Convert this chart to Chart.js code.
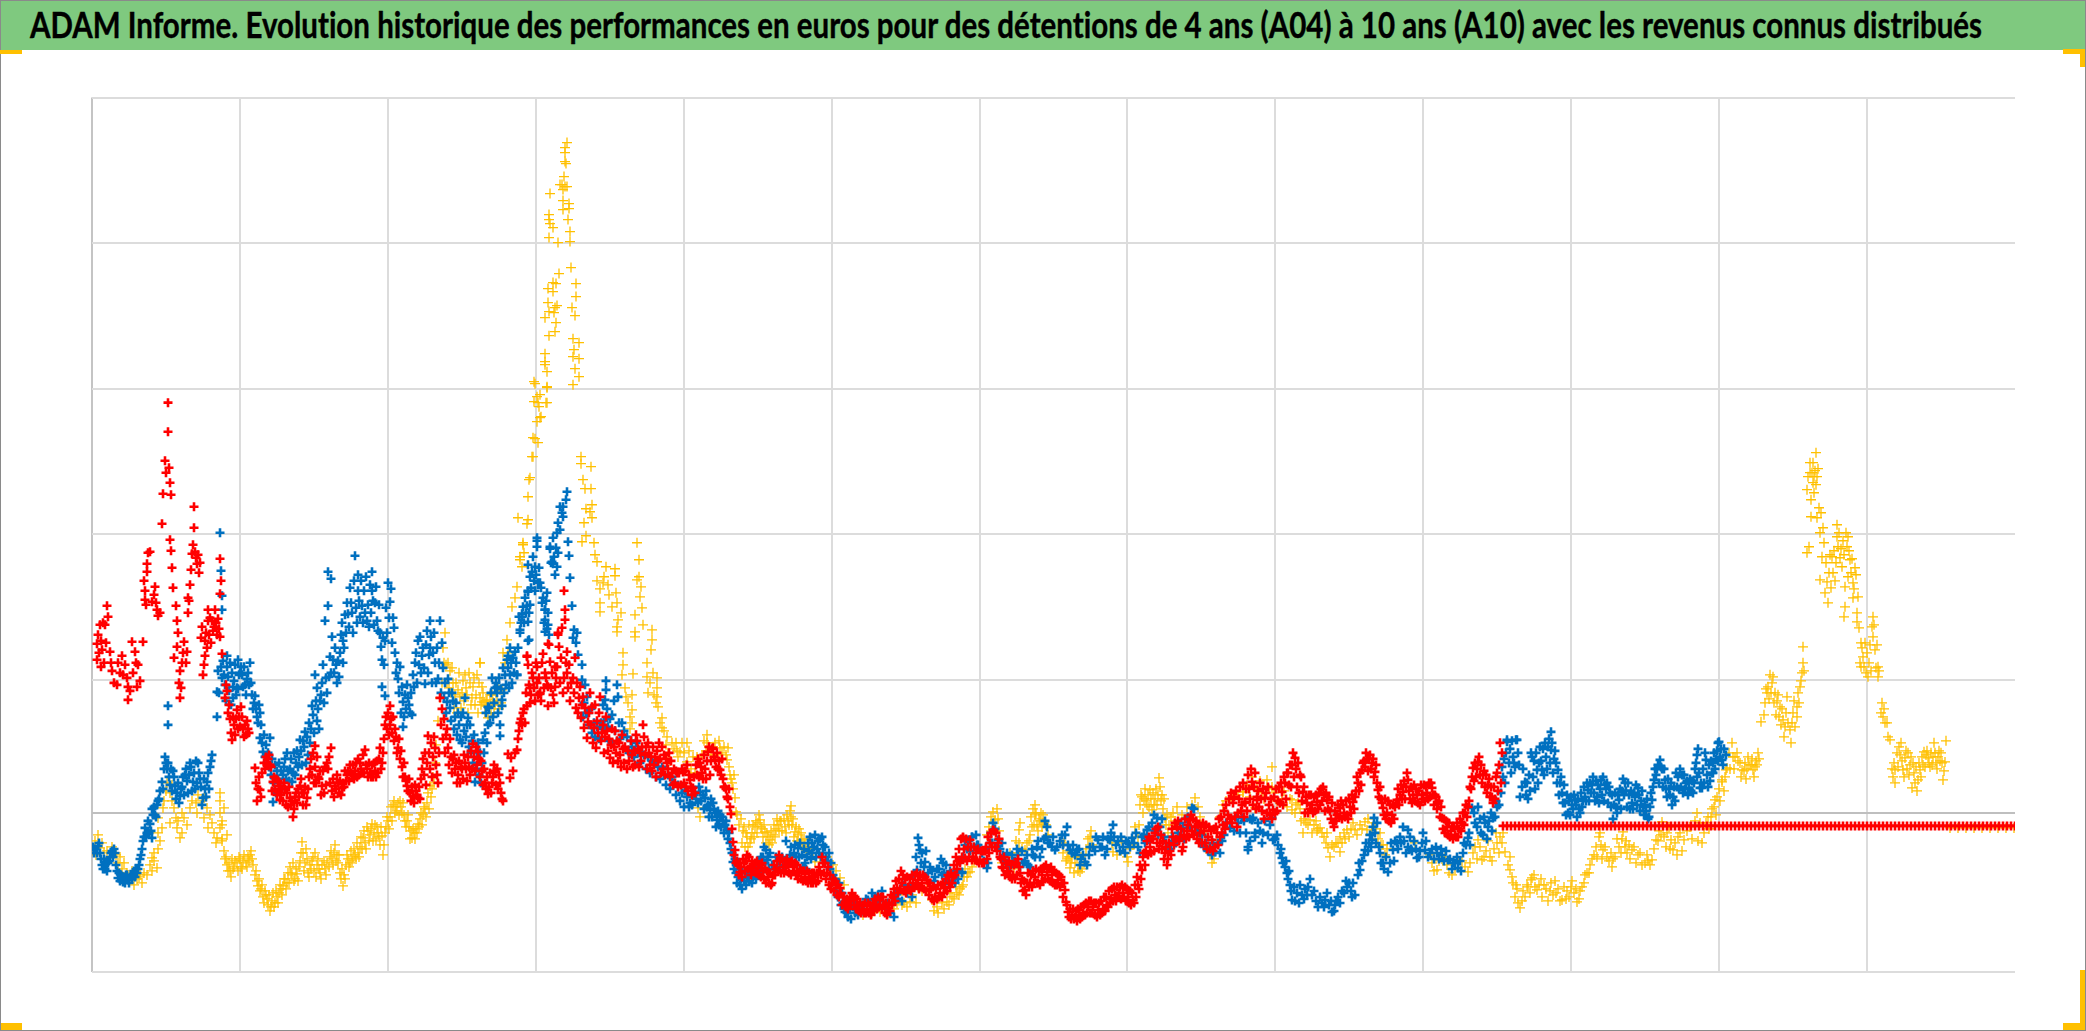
<!DOCTYPE html>
<html lang="fr">
<head>
<meta charset="utf-8">
<title>ADAM Informe</title>
<script src="https://cdn.jsdelivr.net/npm/chart.js@4"></script>
<style>
  html, body { margin: 0; padding: 0; background: #fff; overflow: hidden; }
  #page { position: relative; width: 2086px; height: 1031px; overflow: hidden; }
  #chart { position: absolute; left: 0; top: 0; }
  #band { position: absolute; left: 0; top: 0; width: 2086px; height: 50px; background: #7FC97F; }
  #heading { position: absolute; left: 30px; top: 2px; margin: 0; white-space: nowrap; transform-origin: left top;
    font: 700 36px Lato, sans-serif; font-variant-ligatures: none; -webkit-text-stroke: 0.4px #000; color: #000; line-height: 44px; }
  #frame { position: absolute; left: 0; top: 0; width: 2084px; height: 1029px; border: 1px solid #8A8A8A; }
  .mark { position: absolute; background: #FFC000; }
</style>
</head>
<body>
<div id="page">
  <canvas id="chart" width="2086" height="1031"></canvas>
  <div id="band"></div>
  <h1 id="heading">ADAM Informe. Evolution historique des performances en euros pour des détentions de 4 ans (A04) à 10 ans (A10) avec les revenus connus distribués</h1>
  <div id="frame"></div>
  <!-- orange corners of the slide -->
  <div class="mark" style="left:0;top:50px;width:22px;height:4px"></div>
  <div class="mark" style="left:2063px;top:49px;width:22px;height:5px"></div>
  <div class="mark" style="left:2080px;top:49px;width:5px;height:18px"></div>
  <div class="mark" style="left:1px;top:1023px;width:21px;height:7px"></div>
  <div class="mark" style="left:2063px;top:1023px;width:22px;height:7px"></div>
  <div class="mark" style="left:2080px;top:970px;width:5px;height:60px"></div>
</div>
<script>
// axis gridlines, no labels in the picture
const xTicks = [0, 148, 296, 444, 592, 740, 888, 1035, 1183, 1331, 1479, 1627, 1775, 1923];
const yTicks = [-159, 0, 133, 279, 424, 570, 715];

// values, [position on x axis, value]
const a04Points = [
[0,-35],[3,-28],[4,-42],[6,-22],[8,-35],[10,-30],[12,-40],[15,-38],[18,-45],[20,-34],[24,-42],[26,-50],[28,-44],[30,-56],[32,-50],[35,-60],[37,-66],[40,-58],[42,-72],[45,-66],[48,-62],[50,-70],[52,-60],[47,-64],
[55,-62],[58,-52],[60,-58],[62,-48],[65,-55],[62,-40],[66,-36],[60,-45],[68,-28],[66,-20],[70,-15],[66,-5],[71,5],[72,12],[75,30],[74,22],[78,20],[80,28],[80,12],[82,5],[84,-5],[78,-10],[85,-15],[88,-25],[86,-8],[90,-20],[92,-5],[95,-12],[90,0],[98,5],[100,12],[104,10],[105,0],[110,12],[112,15],[106,18],[115,5],[112,-5],[118,-2],[120,-10],[116,-15],[122,-20],[125,-25],[128,-15],[130,-28],[124,-30],[135,-22],[130,-8],[128,0],[128,12],[128,20],[130,-12],[132,5],[130,-26],
[132,-38],[133,-46],[135,-52],[138,-58],[140,-46],[142,-54],[145,-50],[147,-44],[149,-54],[151,-48],[154,-50],[156,-44],[158,-42],[160,-46],[163,-62],[165,-68],[166,-73],[169,-76],[171,-84],[174,-82],[176,-92],[178,-98],[180,-88],[183,-90],[185,-84],[187,-80],[189,-76],[191,-73],[193,-66],[195,-70],[198,-54],[200,-62],[203,-66],[205,-61],[208,-48],[210,-29],[211,-40],[213,-50],[214,-36],[216,-60],[218,-52],[220,-48],[223,-40],[225,-52],[228,-60],[230,-52],[233,-56],[235,-50],[238,-44],[240,-46],[243,-32],[245,-42],[246,-50],[248,-60],[251,-73],[252,-62],[254,-52],[256,-46],[258,-50],[261,-44],[263,-42],[266,-40],[268,-34],[271,-25],[273,-30],[276,-18],[278,-22],[280,-11],[282,-20],[285,-14],[287,-24],[290,-23],[291,-42],[292,-32],[294,-14],[296,-8],[298,-4],[301,8],[303,0],[305,2],[308,12],[310,0],[312,-2],[315,-8],[317,-14],[319,-18],[320,-25],[322,-20],[324,-16],[326,-11],[328,-6],[331,-2],[333,4],[335,10],[338,27],[339,16],[341,36],[343,50],[344,68],[346,92],[348,115],[351,165],[353,180],[350,130],[354,148],[356,150],[358,142],[361,130],[363,118],[366,123],[368,116],[371,132],[373,138],[375,118],[378,130],[381,126],[383,108],[385,138],[388,150],[388,115],[390,126],[392,110],[395,107],[398,118],[401,111],[404,120],[407,104],[410,123],
[388,150],[390,111],[395,113],[408,123],[411,160],[413,150],[415,173],[418,190],[416,160],[420,206],[423,215],[425,226],[426,295],[428,253],[428,256],[430,246],[431,268],[431,270],[432,260],[435,289],[436,293],[436,316],[437,333],[438,335],[440,356],[441,356],[441,375],[443,374],[443,429],[446,410],[446,370],[448,395],[455,410],[455,425],
[475,670],[473,665],[473,660],[473,651],[474,649],[472,636],[470,628],[475,626],[468,628],[471,623],[473,626],[458,619],[471,612],[477,609],[471,603],[477,604],[457,598],[457,593],[476,593],[458,589],[461,585],[478,581],[457,575],[478,571],[466,570],[479,545],[467,539],[484,529],[464,529],[461,530],[456,524],[461,521],[484,516],[456,510],[465,507],[463,505],[480,505],[457,501],[462,500],[483,497],[453,495],[464,490],[463,481],[457,477],[481,474],[487,470],[482,463],[453,459],[481,456],[487,454],[453,451],[453,448],[455,441],[483,444],[487,436],[481,428],[442,431],[455,426],[448,418],[445,416],[442,411],[454,410],[447,406],[449,396],[445,391],
[489,356],[489,349],[499,346],[491,333],[493,324],[499,324],[500,308],[494,304],[498,301],[500,295],[492,290],[494,277],[490,271],[502,270],[503,258],[505,251],[514,246],[523,244],[523,237],[512,236],[505,232],[511,230],[516,228],[508,224],[517,218],[524,220],[508,210],[525,210],[520,206],[508,201],[529,200],[526,193],[525,186],[525,181],
[545,270],[547,253],[547,236],[545,233],[549,226],[548,216],[550,205],[543,198],[551,188],[560,183],[543,181],[560,173],[543,176],[559,163],[531,160],[555,150],[531,148],[561,140],[541,139],[530,138],[555,136],[565,135],[565,125],[565,116],[566,106],[570,95],[570,85],[533,125],[540,118],[536,110],[540,103],[538,96],[540,90],[534,116],[538,84],[575,76],[580,70],[585,62],
[595,70],[588,61],[595,51],[615,78],[615,70],[621,66],[628,65],[636,65],[635,53],[638,38],[640,30],[643,15],[644,1],[647,-12],[655,-24],[653,-34],[663,-14],[668,-7],[673,-19],[678,-27],[686,-12],[693,-14],[699,7],[699,-4],[703,-19],[710,-27],[608,-4],[606,5],[723,-49],[735,-44],[741,-52],[748,-65],[651,-18],[658,-30],[660,-20],[666,-10],[670,-16],[676,-24],[681,-22],[684,-16],[689,-8],[696,-8],[706,-22],[713,-32],[716,-36],[728,-44],[744,-58],[752,-72],[805,-90],[810,-92],[818,-89],[845,-94],[840,-87],[850,-90],[855,-89],[860,-84],[865,-80],[868,-76],[871,-72],[875,-64],[878,-59],[788,-99],[771,-102],[780,-100],[796,-100],
[870,-74],[876,-60],[882,-48],[895,-22],[901,1],[903,-7],[906,-6],[910,-50],[920,-49],[927,-17],[927,-30],[933,-37],[943,8],[943,-2],[940,-14],[951,-2],[950,-14],[938,-22],[947,-6],[971,-40],[975,-46],[978,-55],[988,-59],[983,-50],[992,-50],[998,-24],[1021,-39],[1035,-44],[1036,-49],[1046,-24],[1050,16],[1051,0],[1054,12],[1058,23],[1060,3],[1063,14],[1067,35],[1070,18],[1073,-5],[1076,-20],[1081,0],[1085,6],[1103,15],[1108,-4],[1120,-50],[1118,-40],[1125,-30],[1131,8],[1151,21],[1160,36],
[1151,21],[1163,5],[1175,33],[1180,46],[1180,26],[1170,20],[1190,14],[1200,13],[1200,3],[1206,10],[1211,-20],[1214,-10],[1218,-7],[1222,-12],[1226,-16],[1228,-15],[1232,-24],[1236,-35],[1238,-44],[1242,-34],[1248,-39],[1248,-24],[1252,-20],[1255,-17],[1259,-16],[1263,-17],[1268,-12],[1273,-9],[1275,-17],[1280,-14],[1284,-16],[1288,-20],[1291,-32],[1293,-42],[1323,-30],[1340,-50],[1345,-57],[1350,-46],[1355,-52],[1360,-62],[1370,-48],[1376,-59],[1381,-40],[1386,-27],[1390,-47],[1394,-38],[1398,-44],[1402,-36],[1405,-30],[1408,-24],[1411,-20],[1413,-39],[1418,-44],[1418,-57],[1421,-70],[1423,-84],[1425,-76],[1428,-95],[1430,-88],[1433,-84],[1436,-74],[1439,-67],[1440,-65],[1443,-74],[1445,-77],
[1450,-84],[1454,-76],[1459,-70],[1464,-80],[1470,-87],[1475,-78],[1479,-74],[1482,-80],[1485,-89],[1488,-78],[1492,-70],[1495,-60],[1498,-52],[1502,-42],[1507,-24],[1509,-32],[1511,-37],[1515,-44],[1520,-54],[1523,-44],[1527,-34],[1531,-19],[1534,-28],[1537,-32],[1540,-37],[1546,-42],[1553,-50],[1556,-48],[1560,-47],[1564,-27],[1567,-18],[1570,-9],[1575,-20],[1579,-27],[1581,-37],[1586,-24],[1592,-27],[1598,-14],[1605,0],[1608,-10],[1610,-30],[1614,-10],[1619,-4],[1622,6],[1625,16],[1630,31],[1634,43],
[1616,-4],[1623,13],[1630,33],[1635,45],[1640,70],[1643,56],[1646,52],[1650,43],[1653,50],[1656,56],[1659,48],[1661,43],[1664,52],[1666,60],[1669,91],[1673,110],[1675,120],[1676,126],[1678,138],[1680,130],[1683,120],[1685,112],[1688,106],[1691,93],[1695,116],[1696,90],[1698,83],[1699,70],[1705,106],[1705,96],[1708,126],[1710,140],[1711,150],[1711,166],
[1715,260],[1717,266],[1715,323],[1719,313],[1719,296],[1716,336],[1721,350],[1724,360],[1725,336],[1721,330],[1718,340],[1723,342],[1727,305],[1725,295],[1728,280],[1730,256],[1728,233],[1735,231],[1733,220],[1736,210],[1740,256],[1741,240],[1745,288],[1745,276],[1746,266],[1748,255],[1750,246],[1755,266],[1756,276],[1758,253],[1756,236],[1753,226],[1753,206],[1752,196],[1763,245],[1761,230],[1761,215],[1765,200],[1765,191],[1767,185],[1769,170],[1771,156],[1769,146],[1776,136],[1775,160],[1781,196],[1782,188],[1781,176],[1783,163],[1786,146],[1786,136],[1790,110],[1791,96],[1795,90],[1798,73],[1809,70],[1808,58],[1803,43],[1803,30],[1811,43],[1816,60],[1821,50],[1820,25],[1826,33],[1828,43],[1832,61],[1838,46],[1842,70],[1846,56],[1850,50],[1851,33],[1854,72],[1853,51],[1813,55],[1818,48],[1836,55],[1844,50],
[1858,-15],[1866,-15],[1874,-15],[1882,-15],[1890,-15],[1898,-15],[1906,-15],[1914,-15],[1922,-15]
];

// second reading of the thick parts of the band
const a04Dense = [
[134,-44],[136,-58],[137,-50],[139,-64],[141,-56],[143,-48],[146,-58],[148,-46],[150,-56],[152,-42],[155,-54],[157,-48],[159,-38],[161,-52],[164,-58],[167,-66],[168,-78],[170,-72],[172,-90],[173,-78],[175,-86],[177,-82],[179,-94],[181,-80],[182,-94],[184,-78],[186,-90],[188,-72],[190,-82],[192,-66],[194,-76],[196,-60],[197,-70],
[199,-60],[201,-50],[202,-68],[204,-56],[206,-68],[207,-54],[209,-40],[212,-58],[215,-46],[217,-64],[219,-56],[221,-44],[222,-58],[224,-64],[226,-46],[227,-56],[229,-66],[232,-48],[234,-62],[237,-54],[239,-38],[241,-52],[242,-40],[244,-48],[247,-42],[249,-66],[250,-56],[253,-66],[255,-42],[257,-54],[259,-38],[260,-48],[262,-36],[264,-46],[265,-30],[267,-44],[269,-24],[270,-36],[272,-18],[274,-36],[275,-14],[277,-28],[279,-16],[281,-28],[283,-12],[284,-26],[286,-20],[288,-32],[289,-14],[293,-20],[295,-4],[297,-16],[299,6],[300,-8],[302,12],[304,6],[306,10],[307,-2],[309,6],[311,10],[313,-8],[314,-14],[316,-2],[318,-26],[321,-16],[323,-26],[325,-20],[327,-14],[329,0],[330,-12],[332,6],[334,-4],[336,20],[337,4],[340,24],[342,30],
[352,150],[355,130],[357,125],[359,120],[360,145],[362,105],[364,130],[365,100],[367,140],[369,105],[370,120],[372,112],[374,125],[376,100],[377,140],[379,108],[380,115],[382,135],[384,118],[386,100],[387,130],[389,108],[391,120],[393,100],[394,112],[396,95],[397,105],[399,100],[400,118],[402,100],[403,108],[405,112],[406,125],[409,110],
[556,120],[558,130],[562,118],[564,110],[568,90],[572,82],[574,68],[576,60],[578,52],[582,64],[584,70],[586,56],[590,70],[592,60],[594,48],[597,62],[599,44],[601,56],[603,40],[605,56],[610,58],[612,72],[614,62],[617,66],[619,58],[623,70],[625,58],[627,72],[630,60],[632,66],[634,58],[637,46],[639,34],[641,24],[642,38],[645,-2],
[649,-6],[650,-30],[652,-14],[654,-20],[656,-34],[657,-12],[659,-26],[661,-12],[662,-24],[664,-8],[665,-20],[667,-2],[669,-14],[671,-24],[672,-12],[674,-30],[675,-20],[677,-32],[679,-18],[680,-30],[682,-12],[683,-24],[685,-6],[687,-18],[688,-8],[690,-18],[692,-6],[694,-20],[695,-2],[697,-12],[698,2],[700,-12],[701,-6],[702,-24],[704,-14],[705,-28],[707,-16],[708,-30],[709,-20],[711,-34],[712,-26],[714,-38],[717,-30],[719,-40],[721,-40],
[802,-96],[806,-82],[812,-90],[815,-94],[820,-82],[824,-90],[830,-78],[835,-76],[842,-98],[846,-100],[848,-84],[852,-96],[857,-92],[858,-80],[862,-86],[864,-74],[867,-82],[872,-64],[873,-56],[880,-54],
[897,-14],[899,-4],[905,4],[907,-18],[908,-30],[912,-54],[915,-44],[918,-40],[922,-56],[924,-28],[925,-40],[928,-10],[930,-36],[935,-30],[937,-28],[939,-4],[941,4],[942,-12],[944,0],[945,-12],[946,-18],[948,-8],[949,0],[952,-10],[954,-12],[956,-22],[969,-28],[972,-30],[974,-48],[976,-38],[977,-44],[979,-50],[980,-44],[982,-60],[985,-44],[986,-58],[989,-44],[990,-56],[994,-36],[996,-26],[999,-18],[1000,-32],[1020,-30],[1025,-42],[1030,-30],[1038,-36],[1041,-32],[1043,-14],[1047,-12],[1048,8],[1049,18],[1052,14],[1053,24],[1055,8],[1056,18],[1057,6],[1059,14],[1061,20],[1062,8],[1064,24],[1065,8],[1066,18],[1068,26],[1069,12],[1071,4],[1072,14],[1074,-12],[1075,-2],[1077,-12],[1079,-4],[1083,-8],[1090,-2],[1095,6],[1100,8],[1106,6],[1110,-12],[1114,-18],[1116,-34],[1122,-46],[1128,-4],[1134,12],[1140,14],[1146,18],
[1155,28],[1158,16],[1165,24],[1168,32],[1172,14],[1177,24],[1182,20],[1185,12],[1188,10],[1192,22],[1195,6],[1198,14],[1203,0],[1204,8],[1208,4],[1209,-8],[1212,-6],[1216,-12],[1220,-20],[1224,-8],[1225,-18],[1230,-20],[1234,-30],[1235,-20],[1240,-32],[1244,-30],[1246,-30],[1250,-30],[1253,-26],[1257,-24],[1261,-10],[1265,-22],[1270,-16],[1276,-6],[1278,-22],[1282,-10],[1286,-26],[1289,-32],[1295,-36],
[1338,-42],[1342,-58],[1347,-48],[1353,-44],[1357,-60],[1363,-56],[1366,-48],[1373,-54],[1378,-50],[1383,-34],[1385,-46],[1388,-34],[1392,-44],[1396,-28],[1400,-48],[1404,-20],[1407,-40],[1410,-30],[1416,-52],[1420,-64],[1424,-72],[1426,-90],[1431,-78],[1435,-72],[1438,-80],[1442,-62],
[1447,-72],[1449,-66],[1452,-72],[1456,-88],[1458,-78],[1461,-82],[1463,-68],[1466,-76],[1468,-88],[1472,-74],[1474,-86],[1477,-84],[1480,-68],[1484,-76],[1487,-86],[1490,-74],[1493,-62],[1497,-60],[1500,-46],[1504,-34],[1505,-44],[1508,-20],[1510,-46],[1513,-34],[1517,-48],[1519,-40],[1521,-46],[1525,-26],[1529,-40],[1530,-26],[1533,-34],[1535,-40],[1538,-46],[1542,-34],[1544,-50],[1548,-40],[1550,-52],[1555,-42],[1558,-52],[1562,-36],[1566,-28],[1569,-22],[1572,-24],[1574,-34],[1577,-14],[1578,-36],[1583,-30],[1585,-42],[1588,-20],[1590,-38],[1595,-18],[1600,-26],[1603,-8],[1606,-28],[1612,-20],[1617,-16],[1620,4],[1624,-2],[1627,24],[1628,12],[1632,22],[1633,36],
[1637,60],[1638,44],[1641,56],[1642,44],[1645,60],[1648,50],[1649,36],[1652,42],[1654,34],[1655,44],[1657,48],[1660,54],[1662,36],[1663,46],[1665,48],[1667,54],
[1672,98],[1674,124],[1677,114],[1679,120],[1681,136],[1682,110],[1684,98],[1686,118],[1687,96],[1689,88],[1690,104],[1692,76],[1693,86],[1694,100],[1700,90],[1701,100],[1702,112],[1703,86],[1706,120],[1707,110],[1709,132],[1712,142],
[1718,350],[1720,340],[1722,320],[1724,328],[1726,344],[1722,336],[1729,300],[1731,285],[1732,270],[1734,250],[1737,240],[1738,258],[1739,225],[1742,262],[1743,232],[1744,250],[1747,280],[1749,264],[1751,272],[1752,258],[1754,280],[1757,262],[1759,240],[1760,254],[1762,224],[1764,238],[1766,216],[1768,150],[1770,165],[1772,146],[1773,170],[1774,140],[1777,150],[1778,168],[1779,142],[1780,186],[1784,145],[1785,168],[1787,142],[1789,100],[1792,104],[1793,90],[1796,76],[1800,44],[1801,36],[1802,50],[1805,60],[1806,46],[1807,66],[1810,52],[1812,36],[1814,62],[1815,44],[1817,38],[1819,56],[1822,40],[1823,30],[1824,46],[1825,22],[1827,50],[1829,36],[1830,56],[1831,48],[1833,46],[1834,58],[1835,62],[1837,50],[1839,60],[1840,48],[1841,56],[1843,60],[1845,44],[1847,62],[1848,52],[1849,60],[1852,42]
];

const a07Points = [
[3,-36],[6,-33],[8,-40],[10,-52],[12,-46],[13,-56],[16,-50],[18,-44],[20,-38],[23,-40],[24,-52],[26,-65],[29,-62],[31,-69],[34,-62],[36,-67],[39,-62],[41,-63],[44,-56],[46,-56],[48,-46],[50,-36],[52,-24],[53,-15],[55,-20],[58,-11],[60,-25],[60,4],[63,-2],[65,8],[67,14],[70,31],[73,56],[75,44],[76,50],[78,28],[81,42],[83,27],[85,20],[88,17],[90,26],[93,38],[95,32],[98,50],[101,31],[103,24],[106,50],[108,34],[111,15],[113,24],[115,31],[118,46],[120,58],
[76,88],[76,107],[128,280],[129,242],[130,217],[130,203],[125,96],[125,121],[126,142],[135,157],[135,146],[132,138],[141,126],[146,153],[148,140],[150,138],[153,128],[155,134],[158,150],[141,115],[145,125],[163,117],[165,96],[168,100],[168,75],[178,75],[171,61],[175,50],[181,11],[185,42],[188,30],[193,54],[196,42],[200,31],[204,50],[208,73],[213,81],[216,58],[218,70],[220,107],[225,92],[225,125],[223,138],[228,112],[231,148],[230,130],[241,153],[245,130],[248,160],[251,172],[251,150],[233,192],[236,207],[236,241],[239,234],[240,176],[256,199],[259,210],[263,257],[266,238],[266,222],[270,207],[275,192],[280,241],[280,222],[283,210],[285,192],[286,182],[290,153],[296,230],[298,211],[301,195],[293,172],[290,126],[293,117],[305,150],[306,134],[311,86],[311,111],[316,115],[318,100],[321,138],[326,172],[330,157],[333,129],[338,192],[338,165],[343,150],[348,192],[346,134],[356,134],[355,111],[360,120],[363,96],[368,73],[375,88],[373,115],[383,31],[385,61],[390,50],[391,73],[396,88],[401,96],[405,126],[410,107],[408,77],
[416,157],[418,138],[425,138],[428,180],[430,199],[435,207],[436,172],[436,222],[440,241],[445,272],[448,230],[453,203],[455,184],[458,264],[461,249],[465,280],[468,306],
[475,321],[474,313],[471,306],[471,296],[468,283],[461,275],[445,275],[445,266],[458,266],[476,271],[477,257],[466,260],[460,251],[465,246],[463,238],[441,256],[436,248],[443,246],[438,236],[446,230],[478,235],[436,221],[455,220],[450,210],[480,207],[431,206],[438,208],[430,196],[453,203],[436,191],[453,193],[428,183],[456,188],[453,181],[482,183],[481,175],[437,173],[418,165],[423,161],[415,153],[416,145],[425,138],[413,138],[486,158],[490,148],[404,130],[405,120],[410,113],[490,133],[514,132],[514,123],[525,128],[526,116],[495,116],[491,96],[513,113],[520,98],[530,90],[396,106],[398,90],[408,88],[500,80],[510,84],[520,70],[540,66],[550,60],[560,52],[570,46],[580,36],
[590,20],[595,16],[598,10],[600,8],[604,14],[608,21],[611,18],[613,15],[616,8],[618,3],[621,10],[623,0],[625,-7],[630,-4],[633,-12],[635,-17],[638,-30],[640,-40],[641,-49],[644,-60],[648,-72],[652,-68],[655,-65],[661,-64],[670,-52],[674,-37],[675,-47],[680,-52],[686,-48],[694,-28],[698,-42],[702,-40],[706,-35],[710,-42],[713,-50],[717,-38],[720,-30],[720,-40],[725,-36],[731,-32],[731,-40],[736,-48],[741,-62],[745,-72],[748,-80],[751,-90],[753,-99],[756,-104],[761,-94],[766,-102],[770,-92],[776,-87],[781,-86],[786,-82],[792,-92],[798,-100],[806,-86],[815,-80],[826,-25],[828,-37],[833,-49],[825,-57],[838,-54],[843,-64],[847,-56],[851,-50],[850,-62],[857,-64],[863,-70],[866,-66],[870,-59],[875,-36],[880,-24],[885,-32],
[870,-60],[880,-24],[886,-32],[890,-40],[895,-55],[898,-30],[901,-10],[906,-27],[911,-42],[916,-50],[921,-48],[926,-42],[931,-50],[936,-52],[941,-42],[945,-34],[948,-44],[952,-26],[955,-14],[956,-30],[960,-34],[963,-37],[968,-28],[973,-22],[978,-37],[981,-32],[985,-37],[989,-46],[993,-49],[997,-42],[1001,-34],[1006,-27],[1010,-34],[1013,-42],[1018,-27],[1021,-12],[1026,-28],[1031,-34],[1036,-30],[1040,-25],[1046,-34],[1050,-24],[1055,-17],[1060,-10],[1065,-5],[1068,-14],[1072,-24],[1076,-34],[1082,-28],[1086,-20],[1091,-15],[1096,-4],[1100,5],[1104,-14],[1108,-29],[1114,-30],[1118,-34],[1123,-39],[1130,-28],[1138,-15],[1146,-10],[1152,-8],[1160,-7],[1156,-34],[1163,-24],
[1150,-5],[1156,-37],[1161,-5],[1163,-20],[1168,-18],[1171,-20],[1176,-22],[1180,-5],[1181,-27],[1186,-32],[1188,-40],[1190,-45],[1193,-54],[1195,-60],[1198,-72],[1200,-87],[1205,-80],[1210,-82],[1213,-76],[1216,-74],[1220,-82],[1226,-94],[1230,-90],[1233,-87],[1237,-92],[1240,-99],[1243,-92],[1246,-84],[1250,-78],[1255,-74],[1259,-78],[1263,-82],[1268,-57],[1270,-48],[1273,-37],[1277,-30],[1280,-27],[1282,-5],[1283,-20],[1287,-34],[1291,-50],[1296,-59],[1298,-50],[1301,-37],[1305,-30],[1308,-24],[1312,-28],[1316,-17],[1316,-34],[1320,-38],[1325,-45],[1328,-38],[1331,-20],[1333,-37],[1338,-40],[1345,-40],[1350,-42],[1356,-47],[1361,-50],[1366,-55],[1368,-48],[1371,-40],[1374,-32],[1376,-25],[1380,5],[1383,-10],[1388,-6],[1393,-10],[1391,-22],[1397,-8],[1401,-5],[1405,6],[1411,36],[1415,71],[1425,73],[1421,56],[1423,46],[1428,16],[1435,30],[1440,56],[1441,36],[1445,43],
[1415,73],[1424,73],[1422,50],[1433,31],[1439,60],[1448,66],[1450,43],[1454,56],[1459,81],[1459,63],[1462,54],[1466,43],[1468,30],[1470,20],[1473,10],[1476,0],[1480,8],[1483,13],[1487,4],[1490,6],[1493,16],[1496,23],[1500,28],[1505,16],[1509,33],[1514,24],[1518,20],[1522,8],[1525,0],[1527,13],[1530,22],[1533,30],[1537,18],[1540,10],[1543,16],[1546,25],[1551,6],[1554,2],[1557,-4],[1560,13],[1562,33],[1565,44],[1568,53],[1570,44],[1573,33],[1577,24],[1581,16],[1585,26],[1590,38],[1594,30],[1597,25],[1602,30],[1605,58],[1608,25],[1605,36],[1610,25],[1614,53],[1616,26],[1621,40],[1624,54],[1627,71],[1630,53],[1634,58],[1626,70],[1628,56],[1621,50]
];

const a07Dense = [
[1,-34],[2,-40],[5,-40],[7,-30],[9,-46],[11,-56],[14,-50],[15,-58],[17,-48],[19,-40],[21,-44],[22,-36],[25,-58],[27,-60],[28,-68],[30,-64],[32,-64],[33,-70],[35,-62],[37,-70],[38,-64],[40,-66],[42,-58],[43,-64],[45,-60],[47,-52],[49,-42],[51,-28],[54,-24],[56,-8],[57,-20],[59,-18],[61,-2],[62,6],[64,-4],[66,12],[68,22],[71,24],[72,44],[74,50],[77,36],[79,44],[80,22],[82,36],[84,14],[86,30],[87,10],[89,24],[91,36],[92,18],[94,44],[96,20],[97,38],[99,46],[100,22],[102,40],[104,52],[105,30],[107,40],[109,26],[110,8],[112,34],[114,16],[116,40],[117,24],[119,52],
[127,120],[129,146],[130,135],[131,152],[133,128],[134,112],[136,136],[137,122],[138,150],[139,108],[140,140],[142,132],[143,148],[144,118],[146,124],[147,138],[149,146],[151,126],[152,146],[154,118],[156,140],[157,128],[159,130],[160,118],[161,104],[162,110],[164,104],[166,90],[167,108],[169,88],[170,70],[172,78],[173,56],[174,68],[176,60],[177,46],[179,38],[180,54],[182,30],[183,48],[184,20],[186,34],[187,50],[189,42],[190,24],[191,38],[192,46],[194,34],[195,60],[197,32],[198,44],[199,54],[201,40],[202,60],[203,38],[205,62],[206,46],[207,56],[209,62],[210,48],[211,72],[212,66],[214,50],[215,76],[217,90],[219,84],[221,98],[222,80],[224,112],[226,104],[227,84],[229,118],[232,110],[234,135],[235,120],[237,136],[238,156],[239,140],[242,140],[243,165],[244,148],[246,152],[247,136],[249,178],[250,190],[252,165],[253,198],[254,180],[255,210],[257,186],[258,225],[260,200],[261,180],[262,232],[264,205],[265,190],[267,212],[268,196],[269,232],[271,190],[272,222],[273,200],[274,236],[276,208],[277,186],[278,228],[279,200],[281,212],[282,188],[284,226],[287,208],[288,180],[289,166],[291,175],[292,148],[294,205],[295,180],[297,195],[299,224],[300,170],[302,185],[303,160],[304,140],[307,120],[308,146],[309,100],[310,126],[312,96],[313,118],[314,104],[315,128],[317,108],[319,120],[320,98],[322,126],[323,150],[324,160],[325,130],[327,148],[328,176],[329,140],[331,165],[332,145],[334,168],[335,182],[336,140],[337,158],[339,176],[340,130],[341,160],[342,180],[344,130],[345,165],[347,150],[349,120],[350,170],[351,145],[352,115],[353,130],[354,100],[357,120],[358,105],[359,92],[361,112],[362,84],[364,110],[365,78],[366,100],[367,88],[369,96],[370,70],[371,100],[372,82],[374,76],[376,95],[377,66],[378,88],[379,60],[380,72],[381,50],[382,78],[384,44],[386,70],[387,38],[388,60],[389,30],[392,60],[393,80],[394,100],[395,70],[397,105],[399,120],[400,135],[402,110],[403,125],[406,100],[407,135],[409,124],[411,145],[412,120],[414,128],[417,125],[419,150],[420,130],[421,155],[422,140],[424,150],[426,165],[427,196],[429,190],[432,190],[433,215],[434,200],[437,200],[439,225],[442,232],[443,222],[444,238],[447,245],[449,225],[451,215],[452,190],[454,212],[456,200],[457,178],[459,250],[462,256],[464,265],[466,290],[470,300],
[484,170],[485,180],[492,110],[493,128],[494,100],[496,100],[497,88],[499,104],[502,90],[503,76],[505,86],[507,74],[509,90],[511,108],[512,92],[515,104],[516,86],[517,72],[518,94],[522,112],[523,82],[527,90],[528,74],[532,82],[535,76],[537,60],[539,72],[542,56],[544,70],[546,60],[548,50],[552,58],[554,44],[556,56],[558,40],[562,50],[564,36],[566,46],[568,34],[572,38],[574,28],[576,38],[578,24],[582,30],[584,18],[586,28],[588,12],[592,6],[593,22],[597,6],[602,18],[606,10],[607,26],[609,12],[612,4],[614,22],[615,6],[617,-4],[619,14],[620,-4],[622,4],[624,-14],[626,2],[627,-12],[628,-2],[629,-14],[631,-8],[632,-20],[634,-8],[636,-26],[637,-20],[639,-36],[642,-56],[643,-46],[645,-70],[646,-64],[647,-56],[649,-66],[650,-76],[653,-60],[654,-72],[656,-60],[657,-68],[658,-56],[660,-70],[663,-58],[664,-66],[666,-54],[667,-48],[668,-60],[669,-44],[671,-44],[672,-34],[673,-50],[676,-44],[677,-56],[678,-40],[682,-56],[684,-44],[688,-54],[690,-44],[692,-52],[696,-48],[699,-34],[700,-48],[703,-32],[704,-44],[707,-44],[708,-30],[711,-54],[712,-36],[714,-56],[715,-44],[716,-30],[718,-24],[719,-46],[722,-34],[723,-22],[724,-44],[726,-28],[727,-40],[728,-26],[729,-44],[730,-24],[733,-34],[734,-44],[737,-40],[738,-56],[739,-50],[740,-66],[743,-66],[744,-78],[746,-84],[747,-70],[749,-92],[750,-80],[752,-96],[754,-88],[755,-100],[758,-96],[759,-106],[760,-90],[763,-100],[764,-90],[768,-94],[772,-98],[774,-86],[778,-90],[780,-80],[783,-90],[788,-88],[790,-78],[794,-96],[796,-90],[800,-90],[802,-104],[804,-80],[808,-78],[810,-88],[812,-72],[818,-72],[820,-84],[822,-62],[824,-44],[827,-32],[829,-50],[830,-40],[832,-54],[834,-38],[836,-60],[840,-58],[842,-68],[845,-56],[849,-46],[852,-60],[854,-52],[855,-68],[858,-58],[860,-68],[862,-60],[865,-58],[868,-48],[871,-44],[873,-32],[876,-28],[878,-38],[882,-34],[884,-22],[888,-36],[892,-48],[894,-36],[896,-50],[899,-20],[900,-30],[903,-16],[904,-34],[908,-36],[910,-30],[913,-48],[915,-40],[918,-54],[920,-42],[923,-48],[925,-36],[928,-54],[930,-38],[933,-48],[935,-42],[938,-54],[940,-36],[943,-44],[946,-28],[950,-36],[953,-8],[954,-24],[958,-30],[961,-24],[965,-34],[970,-22],[971,-32],[975,-14],[976,-32],[980,-40],[983,-42],[987,-36],[988,-52],[991,-42],[995,-52],[998,-34],[1003,-38],[1004,-24],[1008,-34],[1011,-24],[1015,-36],[1016,-26],[1019,-20],[1022,-24],[1024,-32],[1028,-38],[1029,-24],[1033,-40],[1034,-28],[1038,-34],[1042,-30],[1044,-20],[1048,-40],[1052,-22],[1053,-30],[1057,-14],[1058,-26],[1062,-2],[1063,-18],[1066,-22],[1070,-6],[1074,-30],[1078,-36],[1080,-24],[1084,-30],[1088,-10],[1092,-26],[1094,-6],[1098,-14],[1102,4],[1106,-20],[1110,-22],[1112,-34],[1116,-38],[1120,-42],[1121,-30],[1126,-30],[1128,-40],[1132,-22],[1134,-10],[1142,-18],[1144,-4],[1148,-20],[1154,-20],[1158,-6],[1158,-28],[1166,-10],[1170,-30],[1173,-8],[1178,-12],[1183,-26],[1185,-22],[1189,-36],[1191,-50],[1194,-48],[1196,-66],[1197,-58],[1199,-78],[1202,-74],[1203,-88],[1207,-90],[1208,-72],[1212,-86],[1215,-82],[1218,-66],[1222,-78],[1224,-88],[1228,-84],[1232,-94],[1235,-80],[1239,-88],[1242,-98],[1244,-88],[1248,-90],[1252,-80],[1254,-68],[1257,-70],[1260,-84],[1261,-70],[1266,-62],[1267,-50],[1272,-42],[1274,-30],[1276,-38],[1278,-22],[1279,-34],[1281,-14],[1284,-30],[1285,-10],[1288,-40],[1289,-50],[1292,-56],[1294,-44],[1299,-30],[1302,-48],[1303,-28],[1306,-36],[1309,-30],[1311,-14],[1314,-40],[1318,-24],[1319,-36],[1322,-28],[1324,-36],[1327,-44],[1330,-30],[1334,-28],[1336,-44],[1340,-36],[1342,-46],[1344,-34],[1347,-46],[1349,-36],[1352,-48],[1354,-38],[1358,-46],[1360,-56],[1363,-50],[1365,-44],[1369,-58],[1372,-30],[1377,-20],[1378,-32],[1382,0],[1385,-14],[1386,6],[1389,-20],[1392,-4],[1395,-26],[1396,-14],[1399,0],[1400,-18],[1403,-4],[1404,12],[1407,8],[1409,20],[1410,46],[1412,54],[1413,30],[1414,60],[1417,50],[1418,64],[1419,40],[1420,72],[1426,60],[1427,48],[1430,26],[1431,44],[1434,18],[1436,14],[1437,38],[1438,22],[1442,52],[1443,24],[1444,60],[1446,30],[1447,50],[1449,52],[1451,64],[1452,38],[1453,70],[1455,44],[1456,66],[1457,74],[1458,50],[1460,70],[1461,40],[1463,62],[1464,50],[1465,30],[1467,18],[1469,36],[1471,10],[1472,28],[1474,-2],[1475,18],[1477,12],[1478,-2],[1479,16],[1481,4],[1482,18],[1484,8],[1485,-4],[1486,14],[1488,0],[1489,20],[1491,12],[1492,26],[1494,12],[1495,30],[1497,12],[1498,30],[1499,20],[1501,36],[1502,20],[1503,12],[1504,32],[1506,28],[1507,10],[1508,24],[1510,18],[1511,36],[1512,12],[1513,28],[1515,30],[1516,10],[1517,26],[1519,6],[1520,18],[1521,-6],[1523,20],[1524,6],[1526,18],[1528,24],[1529,4],[1531,34],[1532,18],[1534,22],[1535,6],[1536,30],[1538,4],[1539,22],[1541,4],[1542,20],[1544,28],[1545,8],[1547,18],[1548,2],[1549,12],[1550,22],[1552,-2],[1553,8],[1555,14],[1556,-6],[1558,6],[1559,20],[1561,26],[1563,44],[1564,38],[1566,48],[1567,30],[1569,46],[1571,26],[1572,44],[1574,24],[1575,16],[1576,34],[1578,18],[1579,30],[1580,8],[1582,26],[1583,12],[1584,40],[1586,36],[1587,24],[1588,44],[1589,26],[1591,20],[1592,38],[1593,24],[1595,32],[1596,18],[1598,34],[1599,22],[1600,32],[1601,20],[1603,44],[1604,50],[1606,64],[1607,40],[1609,30],[1611,44],[1612,30],[1613,60],[1615,38],[1617,48],[1618,32],[1619,52],[1620,40],[1622,60],[1623,44],[1625,62],[1626,52],[1629,64],[1631,48],[1632,64]
];

const a10Points = [
[5,169],[8,188],[15,207],[13,188],[10,163],[5,153],[9,146],[18,161],[20,142],[25,128],[30,157],[31,138],[36,126],[36,113],[40,171],[43,161],[46,148],[45,126],[51,171],[53,222],[53,213],[58,261],[55,249],[55,241],[60,211],[63,226],[65,203],[66,197],[70,289],[71,319],[79,318],[73,352],[78,330],[76,381],[76,410],[78,273],[79,262],[80,245],[81,225],[84,207],[85,192],[85,166],[82,155],[92,171],[95,161],[90,150],[87,130],[88,115],[102,306],[102,285],[103,261],[100,259],[105,249],[98,228],[96,215],[96,200],[116,203],[123,203],[110,186],[113,172],[113,157],[111,138],[116,192],[121,182],[126,194],[128,176],[128,254],[129,232],[128,219],[130,159],
[134,128],[133,115],[136,100],[140,73],[145,103],[150,96],[146,84],[156,84],[163,45],[168,23],[165,12],[176,54],[178,48],[181,31],[188,27],[188,13],[192,30],[198,15],[201,-4],[200,12],[204,20],[208,27],[212,20],[215,15],[223,67],[223,46],[222,30],[226,36],[230,27],[235,50],[239,65],[243,27],[246,30],[250,25],[255,38],[259,40],[263,42],[268,50],[270,40],[273,63],[275,44],[278,40],[283,42],[288,65],[290,50],[293,88],[298,107],[298,88],[303,84],[306,65],[310,46],[313,36],[315,27],[318,20],[321,17],[324,22],[326,15],[329,34],[331,54],[336,77],[343,65],[345,38],[348,115],[355,84],[356,65],[361,54],[363,44],[366,38],[370,44],[373,50],[377,46],[381,69],[386,61],[390,42],[393,30],[396,19],[400,30],[403,42],[408,30],[410,14],[416,59],[418,35],[425,63],[430,88],[435,107],[435,157],[445,130],[448,119],[456,169],[456,126],[465,146],[466,180],
[472,222],[473,203],[473,193],[470,185],[466,178],[457,168],[467,166],[451,159],[475,161],[435,156],[458,151],[483,155],[436,148],[463,146],[445,146],[475,140],[453,140],[441,135],[481,135],[455,128],[463,126],[438,125],[488,126],[448,120],[461,118],[498,120],[456,107],[438,110],[490,108],[431,100],[500,106],[428,90],[508,116],[514,96],[551,88],[496,91],[520,84],[530,78],[510,80],[545,72],[556,70],[565,62],[575,50],[584,42],
[591,41],[598,33],[601,25],[608,50],[610,40],[616,61],[618,38],[621,65],[623,53],[628,43],[633,26],[635,16],[639,-1],[641,-29],[643,-37],[645,-48],[648,-59],[652,-50],[655,-42],[658,-54],[662,-52],[666,-55],[671,-58],[676,-64],[680,-70],[684,-56],[687,-42],[691,-54],[696,-52],[701,-54],[707,-60],[713,-64],[718,-66],[723,-64],[728,-58],[731,-50],[735,-60],[740,-70],[744,-72],[748,-75],[751,-84],[753,-90],[757,-88],[761,-85],[766,-92],[770,-97],[775,-96],[780,-97],[784,-92],[788,-87],[792,-92],[796,-95],[801,-84],[805,-75],[811,-62],[816,-74],[821,-70],[826,-67],[830,-70],[835,-67],[839,-76],[843,-84],[848,-80],[853,-75],[857,-70],[861,-64],[866,-48],[871,-24],[873,-45],[878,-27],[883,-47],
[871,-25],[870,-44],[880,-47],[884,-40],[888,-47],[893,-38],[898,-30],[901,-17],[906,-30],[908,-44],[911,-55],[916,-58],[921,-62],[927,-54],[930,-66],[933,-77],[938,-70],[943,-64],[946,-70],[950,-62],[955,-59],[960,-62],[966,-67],[970,-70],[973,-77],[974,-89],[976,-99],[980,-102],[983,-104],[987,-102],[991,-100],[996,-94],[1001,-94],[1006,-97],[1011,-96],[1015,-92],[1019,-86],[1023,-82],[1027,-80],[1031,-80],[1036,-84],[1041,-87],[1046,-72],[1050,-57],[1051,-44],[1054,-38],[1058,-34],[1061,-26],[1063,-20],[1068,-30],[1073,-40],[1075,-52],[1078,-38],[1081,-24],[1085,-14],[1088,-24],[1091,-34],[1095,-18],[1098,-7],[1103,-14],[1108,-20],[1112,-18],[1116,-24],[1120,-27],[1125,-20],[1131,-12],[1136,-2],[1141,10],[1145,-14],[1149,2],[1153,11],[1157,24],[1160,31],[1165,16],
[1153,10],[1165,13],[1169,14],[1173,15],[1177,8],[1181,3],[1186,12],[1190,21],[1193,30],[1196,40],[1200,48],[1203,55],[1208,38],[1211,21],[1215,10],[1213,0],[1220,8],[1225,11],[1231,26],[1235,13],[1238,2],[1241,-10],[1245,-2],[1248,5],[1252,0],[1255,-2],[1258,6],[1261,11],[1264,22],[1266,30],[1270,43],[1272,52],[1274,60],[1277,54],[1280,50],[1283,41],[1286,23],[1289,14],[1291,5],[1295,0],[1300,-2],[1303,6],[1305,13],[1308,18],[1311,21],[1316,33],[1321,18],[1325,18],[1330,18],[1335,20],[1340,25],[1343,18],[1346,10],[1350,-5],[1355,-14],[1359,-18],[1363,-22],[1367,-16],[1370,-10],[1373,0],[1376,6],[1378,26],[1381,45],[1386,51],[1391,38],[1396,28],[1400,16],[1405,40],[1410,60],[1408,70],
[1411,-13],[1415,-13],[1419,-13],[1423,-13],[1427,-13],[1431,-13],[1435,-13],[1439,-13],[1443,-13],[1447,-13],[1451,-13],[1455,-13],[1459,-13],[1463,-13],[1467,-13],[1471,-13],[1475,-13],[1479,-13],[1483,-13],[1487,-13],[1491,-13],[1495,-13],[1499,-13],[1503,-13],[1507,-13],[1511,-13],[1515,-13],[1519,-13],[1523,-13],[1527,-13],[1531,-13],[1535,-13],[1539,-13],[1543,-13],[1547,-13],[1551,-13],[1555,-13],[1559,-13],[1563,-13],[1567,-13],[1571,-13],[1575,-13],[1579,-13],[1583,-13],[1587,-13],[1591,-13],[1595,-13],[1599,-13],[1603,-13],[1607,-13],[1611,-13],[1615,-13],[1619,-13],[1623,-13],[1627,-13],[1631,-13],[1635,-13],[1639,-13],[1643,-13],[1647,-13],[1651,-13],[1655,-13],[1659,-13],[1663,-13],[1667,-13],[1671,-13],[1675,-13],[1679,-13],[1683,-13],[1687,-13],[1691,-13],[1695,-13],[1699,-13],[1703,-13],[1707,-13],[1711,-13],[1715,-13],[1719,-13],[1723,-13],[1727,-13],[1731,-13],[1735,-13],[1739,-13],[1743,-13],[1747,-13],[1751,-13],[1755,-13],[1759,-13],[1763,-13],[1767,-13],[1771,-13],[1775,-13],[1779,-13],[1783,-13],[1787,-13],[1791,-13],[1795,-13],[1799,-13],[1803,-13],[1807,-13],[1811,-13],[1815,-13],[1819,-13],[1823,-13],[1827,-13],[1831,-13],[1835,-13],[1839,-13],[1843,-13],[1847,-13],[1851,-13],[1855,-13],[1859,-13],[1863,-13],[1867,-13],[1871,-13],[1875,-13],[1879,-13],[1883,-13],[1887,-13],[1891,-13],[1895,-13],[1899,-13],[1903,-13],[1907,-13],[1911,-13],[1915,-13],[1919,-13],[1923,-13]
];

const a10Dense = [
[6,178],[7,160],[9,172],[11,190],[12,150],[14,170],[16,196],[19,150],[22,130],[26,150],[28,140],[33,148],[35,135],[38,122],[41,140],[44,150],[48,132],[52,232],[54,208],[56,260],[62,218],[64,210],[68,200],[74,340],[77,345],[86,180],[88,142],[89,125],[91,160],[94,150],[97,212],[99,243],[101,268],[104,255],[106,258],[107,240],[108,250],[109,175],[112,148],[114,180],[115,165],[117,178],[118,195],[119,170],[120,192],[122,186],[124,190],[125,178],[127,184],
[135,122],[137,108],[138,94],[139,80],[141,96],[142,88],[143,78],[144,94],[147,96],[148,86],[149,106],[151,84],[152,76],[153,88],[154,78],[155,92],[157,80],
[164,30],[166,24],[167,36],[169,16],[170,40],[172,50],[173,44],[174,56],[175,48],[177,58],[179,46],[180,22],[182,36],[183,24],[184,34],[185,18],[186,32],[187,22],[189,18],[190,24],[191,12],[193,24],[194,8],[195,20],[196,6],[197,26],[199,8],[202,4],[203,16],[205,10],[206,24],[207,16],[209,34],[210,20],[211,8],[213,26],[214,8],[216,24],[217,36],[218,44],[219,54],[220,38],[221,60],[224,30],[225,56],[227,34],[228,42],[229,18],[231,42],[232,20],[233,46],[234,28],[236,44],[237,56],[238,30],[240,22],[241,34],[242,16],[244,24],[245,38],[247,20],[248,32],[249,18],[251,30],[252,26],[253,42],[254,32],[256,42],[257,32],[258,48],[260,38],[261,48],[262,34],[264,50],[265,36],[266,54],[267,38],[269,44],[271,58],[272,40],[274,48],[276,36],[277,50],[279,36],[280,48],[281,36],[282,50],[284,36],[285,52],[286,40],[287,54],[289,44],[291,60],[292,74],[294,96],[295,84],[296,100],[297,78],[299,94],[300,80],[301,96],[302,72],[304,76],[305,60],[307,74],[308,54],[309,62],[311,36],[312,50],[314,32],[316,22],[317,34],[319,12],[320,26],[322,10],[323,28],[325,18],[327,26],[328,14],[330,44],[332,38],[333,60],[334,28],[335,50],[337,60],[338,44],[339,70],[340,36],[341,56],[342,76],[344,48],[346,30],[347,60],[349,88],[350,104],[351,74],[352,94],[353,60],[354,78],[357,48],[358,74],[359,56],[360,40],[362,58],[364,50],[365,30],[367,52],[368,30],[369,46],[371,34],[372,58],[374,44],[375,32],[376,56],[378,38],[379,62],[380,44],[382,56],[383,42],[384,66],[385,48],[387,54],[388,36],[389,52],[391,28],[392,44],[394,24],[395,36],[397,26],[398,40],[399,20],[401,36],[402,48],[404,28],[405,44],[406,24],[407,38],[409,20],[411,12],
[419,55],[421,42],[423,60],[426,74],[427,82],[429,94],[432,104],[433,90],[434,120],[437,128],[439,118],[440,140],[442,125],[443,112],[444,150],[446,118],[447,135],[449,112],[450,150],[452,125],[454,135],[459,125],[460,140],[462,110],[464,135],[468,130],[469,155],[471,120],[472,135],[474,150],[476,125],[477,148],[478,112],[479,130],[482,120],[484,105],[485,130],[486,100],[487,115],[489,95],[491,116],[492,85],[493,105],[495,75],[497,100],[499,88],[501,70],[502,85],[503,108],[504,65],[505,92],[506,80],[507,100],[509,72],[511,88],[512,60],[513,76],[515,82],[516,62],[517,74],[518,55],[519,68],[521,50],[522,66],[523,82],[524,60],[525,72],[526,52],[527,70],[528,58],[529,46],[531,64],[532,50],[533,66],[535,44],[536,62],[537,52],[539,72],[540,58],[541,46],[542,62],[543,48],[544,78],[546,64],[547,46],[548,60],[549,52],[550,66],[552,76],[553,58],[554,66],[555,44],[557,60],[558,48],[559,56],[560,42],[561,66],[562,48],[563,56],[564,36],[566,52],[567,70],[568,54],[569,40],[570,66],[571,44],[572,58],[573,38],[574,54],[576,44],[577,60],[578,36],[579,52],[580,40],[581,28],[582,44],[583,30],[585,40],[586,26],[587,40],[589,28],[590,44],[592,30],[593,42],[594,26],[595,48],[596,22],[597,38],[599,26],[600,18],[602,36],[603,20],[604,48],[605,38],[606,54],[607,36],[609,46],[611,34],[612,58],[613,44],[614,34],[615,52],[617,66],[619,52],[620,64],[622,56],[624,46],[625,60],[626,44],[627,52],[629,38],[630,54],[631,34],[632,26],[634,24],[636,14],[637,24],[638,6],[640,-16],[642,-42],[644,-50],[646,-52],[647,-62],[649,-54],[650,-64],[651,-46],[653,-58],[654,-48],[656,-56],[657,-44],[659,-62],[660,-48],[661,-58],[663,-50],[664,-60],[665,-48],[667,-62],[668,-52],[669,-64],[670,-50],[672,-66],[673,-56],[674,-70],[675,-58],[677,-70],[678,-60],[679,-72],[681,-62],[682,-52],[683,-62],[685,-48],[686,-58],[688,-48],[689,-60],[690,-46],[692,-60],[693,-48],[694,-58],[695,-46],[697,-60],[698,-50],[699,-62],[700,-48],[702,-58],[703,-50],[704,-62],[705,-52],[706,-66],[708,-56],[709,-66],[710,-58],[711,-68],[712,-58],[714,-68],[715,-58],[716,-70],[717,-60],[719,-70],[720,-60],[721,-70],[722,-60],[724,-70],[725,-60],[726,-68],[727,-54],[729,-62],[730,-44],[732,-60],[733,-50],[734,-66],[736,-54],[737,-72],[738,-62],[739,-76],[741,-66],[742,-78],[743,-68],[745,-82],[746,-72],[747,-84],[749,-80],[750,-92],[752,-84],[754,-94],[755,-86],[756,-96],[758,-84],[759,-92],[760,-80],[762,-92],[763,-84],[764,-96],[765,-86],[767,-98],[768,-90],[769,-100],[771,-92],[772,-100],[773,-90],[774,-100],[776,-90],[777,-100],[778,-92],[779,-102],[781,-90],[782,-98],[783,-86],[785,-96],[786,-84],[787,-94],[789,-84],[790,-96],[791,-84],[793,-100],[794,-90],[795,-102],[797,-90],[798,-98],[799,-82],[800,-92],[802,-76],[803,-88],[804,-68],[806,-80],[807,-66],[808,-76],[809,-58],[810,-70],[812,-78],[813,-66],[814,-80],[815,-64],[817,-76],[818,-66],[819,-78],[820,-62],[822,-74],[823,-62],[824,-72],[825,-60],[827,-76],[828,-62],[829,-74],[831,-62],[832,-76],[833,-64],[834,-78],[836,-70],[837,-82],[838,-70],[840,-86],[841,-74],[842,-88],[844,-76],[845,-86],[846,-72],[847,-84],[849,-72],[850,-84],[851,-70],[852,-80],[854,-66],[855,-78],[856,-62],[858,-74],[859,-60],[860,-70],[862,-52],[863,-62],[864,-44],[865,-56],[867,-36],[868,-50],[869,-26],[872,-36],[874,-26],[875,-48],[876,-34],[877,-44],[879,-34],[881,-44],[882,-34],[885,-48],[886,-36],[887,-50],[889,-38],[890,-50],[891,-38],[892,-50],[894,-34],[895,-46],[896,-24],[897,-40],[899,-20],[900,-34],[902,-18],[903,-34],[904,-20],[905,-38],[907,-26],[909,-46],[910,-54],[912,-44],[913,-62],[914,-50],[915,-60],[917,-48],[918,-64],[919,-52],[920,-66],[922,-52],[923,-66],[924,-50],[925,-62],[926,-46],[928,-60],[929,-70],[931,-78],[932,-68],[934,-82],[935,-70],[936,-60],[937,-74],[939,-62],[940,-74],[941,-58],[942,-70],[944,-56],[945,-70],[947,-58],[948,-72],[949,-56],[951,-68],[952,-54],[953,-66],[954,-52],[956,-66],[957,-56],[958,-68],[959,-54],[961,-70],[962,-58],[963,-72],[964,-60],[965,-72],[967,-62],[968,-74],[969,-64],[971,-84],[972,-70],[975,-92],[977,-104],[978,-96],[979,-106],[981,-96],[982,-106],[984,-98],[985,-108],[986,-96],[988,-106],[989,-94],[990,-104],[992,-92],[993,-102],[994,-90],[995,-100],[997,-88],[998,-100],[999,-88],[1000,-100],[1002,-90],[1003,-102],[1004,-90],[1005,-104],[1007,-90],[1008,-102],[1009,-88],[1010,-100],[1012,-84],[1013,-98],[1014,-84],[1016,-94],[1017,-78],[1018,-90],[1020,-76],[1021,-88],[1022,-74],[1024,-88],[1025,-74],[1026,-84],[1028,-74],[1029,-86],[1030,-72],[1032,-84],[1033,-74],[1034,-88],[1035,-76],[1037,-90],[1038,-78],[1039,-92],[1040,-80],[1042,-90],[1043,-72],[1044,-84],[1045,-64],[1047,-76],[1048,-52],[1049,-66],[1052,-40],[1053,-52],[1055,-28],[1056,-42],[1057,-24],[1059,-40],[1060,-26],[1062,-38],[1064,-16],[1065,-30],[1066,-14],[1067,-36],[1069,-22],[1070,-36],[1071,-28],[1072,-46],[1074,-34],[1076,-46],[1077,-30],[1079,-42],[1080,-16],[1082,-32],[1083,-10],[1084,-26],[1086,-8],[1087,-28],[1089,-16],[1090,-38],[1092,-22],[1093,-6],[1094,-26],[1096,-12],[1097,-24],[1099,-2],[1100,-18],[1101,-6],[1102,-22],[1104,-8],[1105,-26],[1106,-12],[1107,-30],[1109,-14],[1110,-30],[1111,-10],[1113,-30],[1114,-12],[1115,-36],[1117,-14],[1118,-36],[1119,-18],[1121,-38],[1122,-16],[1123,-34],[1124,-14],[1126,-32],[1127,-6],[1128,-24],[1129,-4],[1130,-20],[1132,2],[1133,-16],[1134,8],[1135,-10],[1137,14],[1138,-6],[1139,20],[1140,-10],[1142,16],[1143,-4],[1144,22],[1146,0],[1147,14],[1148,26],[1150,8],[1151,30],[1152,-4],[1154,24],[1155,2],[1156,38],[1158,14],[1159,44],[1161,8],[1162,26],[1163,40],[1164,4],[1166,22],[1167,6],[1168,30],[1170,2],[1171,24],[1172,-6],[1174,20],[1175,0],[1176,26],[1178,-2],[1179,14],[1180,-6],[1182,16],[1183,0],[1184,24],[1185,2],[1187,26],[1188,10],[1189,30],[1191,8],[1192,36],[1194,14],[1195,40],[1197,28],[1198,48],[1199,26],[1201,60],[1202,36],[1204,44],[1205,26],[1206,50],[1207,20],[1209,36],[1210,12],[1212,26],[1214,16],[1216,0],[1217,18],[1218,4],[1219,18],[1221,0],[1222,16],[1223,2],[1224,18],[1226,4],[1227,20],[1228,8],[1229,24],[1230,12],[1232,18],[1233,2],[1234,20],[1236,4],[1237,16],[1239,-6],[1240,10],[1242,-14],[1243,2],[1244,-8],[1246,8],[1247,-4],[1249,12],[1250,-6],[1251,8],[1253,-4],[1254,12],[1256,-6],[1257,14],[1259,0],[1260,18],[1262,4],[1263,16],[1265,36],[1267,22],[1268,40],[1269,28],[1271,50],[1273,46],[1275,54],[1276,42],[1278,58],[1279,44],[1281,54],[1282,36],[1284,48],[1285,30],[1287,16],[1288,26],[1290,10],[1292,-2],[1293,14],[1294,-6],[1296,12],[1297,-8],[1298,8],[1299,-10],[1301,8],[1302,-6],[1304,10],[1306,24],[1307,8],[1309,28],[1310,14],[1312,32],[1313,14],[1314,26],[1315,40],[1317,22],[1318,14],[1319,26],[1320,10],[1322,28],[1323,12],[1324,24],[1326,10],[1327,22],[1328,8],[1329,28],[1331,14],[1332,28],[1333,12],[1334,26],[1336,14],[1337,30],[1338,16],[1339,30],[1341,18],[1342,8],[1344,16],[1345,4],[1347,12],[1348,-4],[1349,6],[1351,-16],[1352,-6],[1353,-20],[1354,-8],[1356,-22],[1357,-10],[1358,-24],[1360,-14],[1361,-26],[1362,-14],[1364,-24],[1365,-10],[1366,-24],[1368,-6],[1369,-18],[1371,0],[1372,-12],[1374,8],[1375,-4],[1377,12],[1379,24],[1380,36],[1382,32],[1383,50],[1384,36],[1385,44],[1387,56],[1388,38],[1389,48],[1390,30],[1392,42],[1393,26],[1394,38],[1395,20],[1397,34],[1398,16],[1399,26],[1401,10],[1402,26],[1403,14],[1404,36],[1406,22],[1407,48],[1409,30]
];

// turn the [x, y] lists into what a scatter dataset wants
function toXY (list) {
    return list.map(p => ({ x: p[0], y: p[1] }));
}

function makeSeries (label, list, colour, radius, weight, order) {
    return {
        label: label,
        data: toXY(list),
        pointStyle: 'cross',
        pointRadius: radius,
        pointBorderColor: colour,
        pointBackgroundColor: colour,
        pointBorderWidth: weight,
        order: order // lower order is painted on top
    };
}

// stretch the heading to the width it has in the picture
const heading = document.getElementById('heading');
heading.style.transform = 'scaleX(' + (1952 / heading.getBoundingClientRect().width) + ')';

const ctx = document.getElementById('chart').getContext('2d');
new Chart(ctx, {
    type: 'scatter',
    data: {
        datasets: [
            makeSeries('A04', a04Points.concat(a04Dense), '#FFC000', 5, 1.3, 3),
            makeSeries('A07', a07Points.concat(a07Dense), '#0070C0', 4.5, 2.6, 2),
            makeSeries('A10', a10Points.concat(a10Dense), '#FF0000', 4.5, 2.6, 1)
        ]
    },
    options: {
        responsive: false,
        animation: false,
        layout: { padding: { left: 92, top: 97.5, right: 71, bottom: 59 } },
        plugins: { legend: { display: false }, title: { display: false }, tooltip: { enabled: false } },
        scales: {
            x: {
                type: 'linear',
                min: 0,
                max: 1923,
                afterBuildTicks: axis => { axis.ticks = xTicks.map(v => ({ value: v })); },
                ticks: { display: false },
                border: { display: false },
                grid: {
                    drawTicks: false,
                    lineWidth: 2,
                    color: c => c.tick.value === 0 ? '#C4C4C4' : (c.tick.value === 1923 ? 'rgba(0,0,0,0)' : '#DCDCDC')
                }
            },
            y: {
                type: 'linear',
                min: -159,
                max: 715,
                afterBuildTicks: axis => { axis.ticks = yTicks.map(v => ({ value: v })); },
                ticks: { display: false },
                border: { display: false },
                grid: {
                    drawTicks: false,
                    lineWidth: 2,
                    color: c => c.tick.value === 0 ? '#BFBFBF' : '#DCDCDC'
                }
            }
        }
    }
});
</script>
</body>
</html>
